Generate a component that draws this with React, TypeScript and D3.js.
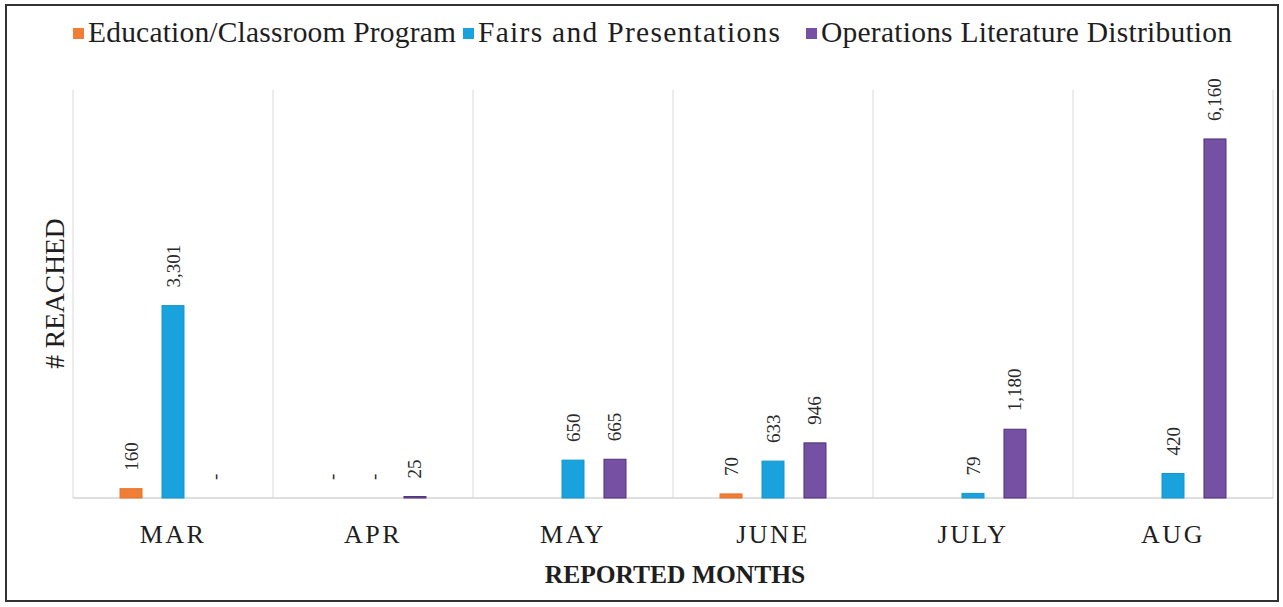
import React from "react";
import * as d3 from "d3";

const months = ["MAR", "APR", "MAY", "JUNE", "JULY", "AUG"];
const seriesNames = [
  "Education/Classroom Program",
  "Fairs and Presentations",
  "Operations Literature Distribution",
];
const education: (number | null)[] = [160, 0, null, 70, null, null];
const fairs: (number | null)[] = [3301, 0, 650, 633, 79, 420];
const operations: (number | null)[] = [0, 25, 665, 946, 1180, 6160];
const seriesColors = ["#F07E36", "#1AA2DC", "#7650A2"];
const seriesStrokes = ["#E8732A", "#1596CF", "#4E3178"];
const yMax = 7000;

const W = 1283;
const H = 607;
const FONT = "'Liberation Serif', 'Times New Roman', serif";

export default function App() {
  const seriesValues = [education, fairs, operations];
  const x = d3.scaleBand<string>().domain(months).range([73, 1273]).paddingInner(0).paddingOuter(0);
  const xi = d3
    .scaleBand<string>()
    .domain(seriesNames)
    .range([0, x.bandwidth()])
    .paddingInner(0.476)
    .paddingOuter(1.12);
  const y = d3.scaleLinear().domain([0, yMax]).range([498, 90]);
  const fmt = d3.format(",");
  const boundaries = months.map((m) => x(m)!).concat([x.range()[1]]);

  const legendX = [73, 463, 806];
  const legendLen = [368, 302, 411];

  return (
    <svg
      width={W}
      height={H}
      style={{ position: "absolute", left: 0, top: 0, background: "#fff" }}
      fontFamily={FONT}
    >
      <rect x={0} y={0} width={W} height={H} fill="#fff" />
      <rect x={6} y={5} width={1272} height={596} fill="none" stroke="#333" strokeWidth={2} />

      {/* legend */}
      {seriesNames.map((name, i) => (
        <g key={name}>
          <rect x={legendX[i]} y={28} width={11} height={11} fill={seriesColors[i]} />
          <text
            x={legendX[i] + 15}
            y={42}
            fontSize={29.5}
            fill="#1e1e1e"
            textLength={legendLen[i]}
            lengthAdjust="spacing"
          >
            {name}
          </text>
        </g>
      ))}

      {/* gridlines */}
      {boundaries.map((bx, i) => (
        <line key={i} x1={bx} x2={bx} y1={y(yMax)} y2={y(0)} stroke="#e6e6e6" strokeWidth={1.5} />
      ))}
      <line x1={x.range()[0]} x2={x.range()[1]} y1={y(0)} y2={y(0)} stroke="#d4d4d4" strokeWidth={1.5} />

      {/* bars */}
      {seriesValues.map((vals, si) =>
        vals.map((v, mi) => {
          if (v === null) return null;
          const bx = x(months[mi])! + xi(seriesNames[si])!;
          const by = y(v);
          const bh = y(0) - by;
          const cx = bx + xi.bandwidth() / 2;
          const ly = by - 18;
          return (
            <g key={`${si}-${mi}`}>
              {v > 0 && (
                <rect
                  x={bx}
                  y={by}
                  width={xi.bandwidth()}
                  height={bh}
                  fill={seriesColors[si]}
                  stroke={seriesStrokes[si]}
                  strokeWidth={1}
                />
              )}
              <text
                transform={`translate(${cx},${ly}) rotate(-90)`}
                fontSize={19}
                fill="#2a2a2a"
                dominantBaseline="central"
                textAnchor="start"
              >
                {v === 0 ? "-" : fmt(v)}
              </text>
            </g>
          );
        })
      )}

      {/* x axis labels */}
      {months.map((m) => (
        <text
          key={m}
          x={x(m)! + x.bandwidth() / 2}
          y={543}
          fontSize={26}
          letterSpacing={2.5}
          textAnchor="middle"
          fill="#1e1e1e"
        >
          {m}
        </text>
      ))}

      {/* axis titles */}
      <text x={675} y={583} fontSize={25.5} fontWeight="bold" textAnchor="middle" fill="#1e1e1e">
        REPORTED MONTHS
      </text>
      <text
        transform={`translate(64,293.5) rotate(-90)`}
        fontSize={27.5}
        textAnchor="middle"
        fill="#1e1e1e"
      >
        # REACHED
      </text>
    </svg>
  );
}
